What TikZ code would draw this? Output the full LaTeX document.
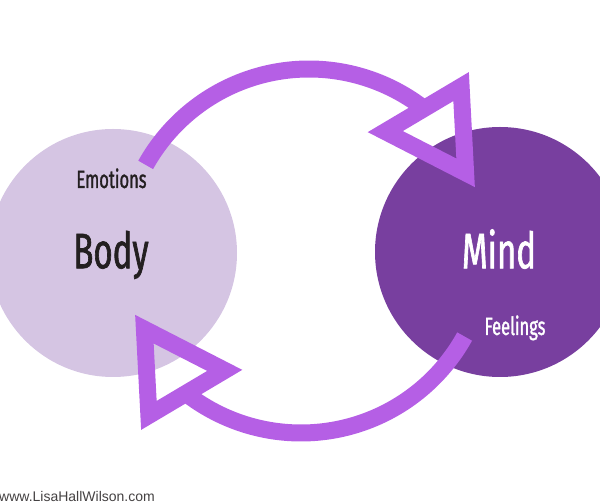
\documentclass[tikz,border=0pt]{standalone}
\usepackage{fontspec}
\setmainfont{Liberation Sans}
\newfontfamily\oswald[FakeStretch=0.66, FakeBold=1.3]{Fira Sans}
\definecolor{bodylilac}{HTML}{D5C5E3}
\definecolor{mindpurple}{HTML}{783F9F}
\definecolor{arrowpurple}{HTML}{B55FE5}
\definecolor{inkgray}{HTML}{231F20}

\begin{document}
\begin{tikzpicture}[x=1pt,y=1pt,
    loopline/.style={draw=arrowpurple, line width=17pt},
    headline/.style={loopline, line join=miter},
    bigword/.style={font=\oswald\fontsize{50}{60}\selectfont, anchor=base, inner sep=0pt},
    smallword/.style={font=\oswald\fontsize{25}{30}\selectfont, anchor=base, inner sep=0pt}]
  \useasboundingbox (0,0) rectangle (600,503);
  \clip (0,0) rectangle (600,503);

  % body
  \fill[bodylilac] (113,250) circle (124);
  \node[bigword, text=inkgray] (body) at (111,234.7) {Body};
  \node[smallword, text=inkgray] (emotions) at (111.5,315) {Emotions};

  % mind
  \fill[mindpurple] (500,251) circle (125);
  \node[bigword, text=white] (mind) at (499,234.7) {Mind};
  \node[smallword, text=white] (feelings) at (515,168) {Feelings};

  % upper arrow, body to mind
  \coordinate (upA) at (385.3,371.4);
  \coordinate (upB) at (461.1,416.4);
  \coordinate (upC) at (465.6,330.2);
  \draw[loopline] ([shift={(309,247)}]150.85:187) arc[start angle=150.85, end angle=52.1, radius=187];
  \draw[headline] (upA) -- (upB) -- (upC) -- cycle;

  % lower arrow, mind to body
  \coordinate (lowA) at (224.7,132.6);
  \coordinate (lowB) at (148.9,87.6);
  \coordinate (lowC) at (144.4,173.8);
  \draw[loopline] ([shift={(301,257)}]-28.96:187) arc[start angle=-28.96, end angle=-127.9, radius=187];
  \draw[headline] (lowA) -- (lowB) -- (lowC) -- cycle;

  % site
  \node[font=\fontsize{14}{16}\selectfont, text=inkgray!85, anchor=base west, inner sep=0pt] (site) at (-1,1.5) {www.LisaHallWilson.com};
\end{tikzpicture}
\end{document}
